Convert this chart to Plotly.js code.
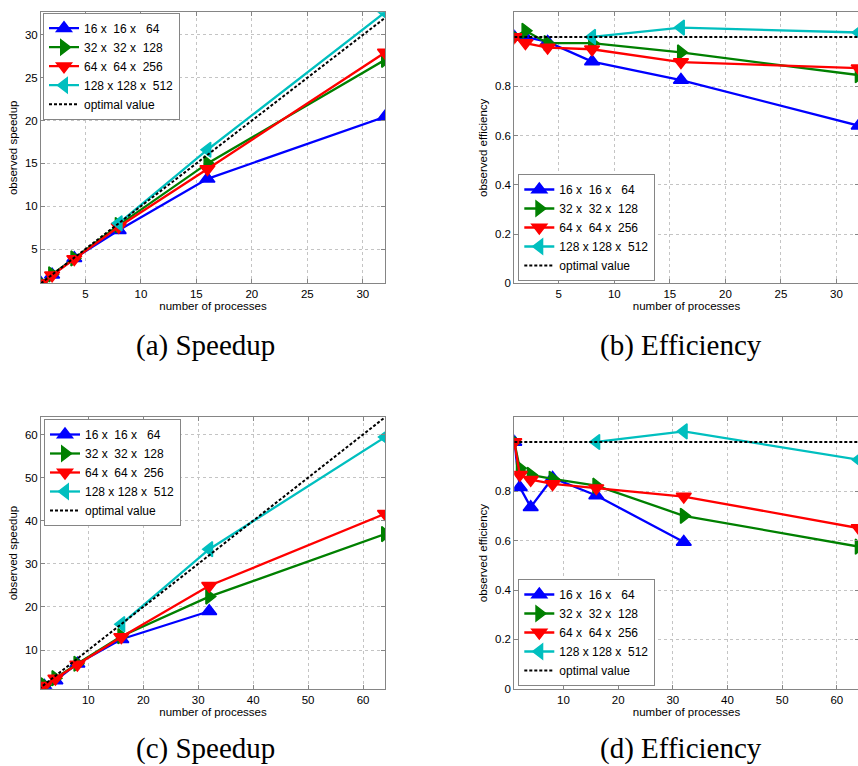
<!DOCTYPE html>
<html>
<head>
<meta charset="utf-8">
<script src="https://cdn.plot.ly/plotly-3.0.1.min.js"></script>
<style>
html,body{margin:0;padding:0;background:#fff;overflow:hidden;}
#chart{width:860px;height:766px;}
</style>
</head>
<body>
<div id="chart"></div>
<script>
// ---------- data ----------
const seriesNames = ['16 x\u00a0\u00a016 x\u00a0\u00a0\u00a064', '32 x\u00a0\u00a032 x\u00a0\u00a0128', '64 x\u00a0\u00a064 x\u00a0\u00a0256', '128 x 128 x\u00a0\u00a0512'];
const optimalName = 'optimal value';

// panel (a) speedup, up to 32 processes
const procsA = [1, 2, 4, 8, 16, 32];
const procsA_cyan = [8, 16, 32];
const speedupA_blue  = [1, 2.0, 3.92, 7.2, 13.2, 20.45];
const speedupA_green = [1, 2.05, 3.9, 7.8, 15.0, 27.1];
const speedupA_red   = [1, 1.95, 3.83, 7.6, 14.35, 27.95];
const speedupA_cyan  = [8, 16.6, 32.65];
const optimalA       = [1, 2, 4, 8, 16, 32];

// panel (b) efficiency, up to 32 processes
const effB_blue  = [1.0, 1.0, 0.98, 0.9, 0.825, 0.64];
const effB_green = [1.0, 1.025, 0.975, 0.975, 0.937, 0.845];
const effB_red   = [1.0, 0.975, 0.957, 0.95, 0.898, 0.873];
const effB_cyan  = [1.0, 1.038, 1.018];
const optimalEffB = [1, 1, 1, 1, 1, 1];

// panel (c) speedup, up to 64 processes
const procsC = [1, 2, 4, 8, 16, 32, 64];
const procsC_blue = [1, 2, 4, 8, 16, 32];
const procsC_cyan = [16, 32, 64];
const speedupC_blue  = [1, 1.63, 2.94, 6.83, 12.5, 19.0];
const speedupC_green = [1, 1.79, 3.47, 6.81, 13.2, 22.4, 36.9];
const speedupC_red   = [1, 1.73, 3.39, 6.64, 13.0, 24.9, 41.6];
const speedupC_cyan  = [16, 33.4, 59.4];
const optimalC       = [1, 2, 4, 8, 16, 32, 64];

// panel (d) efficiency, up to 64 processes
const effD_blue  = [1.0, 0.817, 0.736, 0.854, 0.783, 0.595];
const effD_green = [1.0, 0.894, 0.867, 0.851, 0.823, 0.701, 0.576];
const effD_red   = [1.0, 0.867, 0.847, 0.83, 0.813, 0.779, 0.651];
const effD_cyan  = [1.0, 1.043, 0.928];
const optimalEffD = [1, 1, 1, 1, 1, 1, 1];

const captions = ['(a) Speedup', '(b) Efficiency', '(c) Speedup', '(d) Efficiency'];
const ticksX32 = [5, 10, 15, 20, 25, 30];
const ticksX64 = [10, 20, 30, 40, 50, 60];
const ticksSpeedA = [5, 10, 15, 20, 25, 30];
const ticksSpeedC = [10, 20, 30, 40, 50, 60];
const ticksEff = [0, 0.2, 0.4, 0.6, 0.8];

// ---------- styles ----------
const W = 860, H = 766;
const colors = ['#0000ff', '#008000', '#ff0000', '#00bfbf'];
const symbols = ['triangle-up', 'triangle-right', 'triangle-down', 'triangle-left'];
const sansFont = 'Liberation Sans, Arial, sans-serif';

function series(x, y, i, xa, ya, lg) {
  return {
    x: x, y: y, name: seriesNames[i], type: 'scatter', mode: 'lines+markers',
    xaxis: xa, yaxis: ya, legend: lg,
    line: {color: colors[i], width: 2.3},
    marker: {symbol: symbols[i], size: 13, color: colors[i], line: {color: colors[i], width: 1.5}},
    cliponaxis: true
  };
}
function optimal(x, y, xa, ya, lg) {
  return {
    x: x, y: y, name: optimalName, type: 'scatter', mode: 'lines',
    xaxis: xa, yaxis: ya, legend: lg,
    line: {color: '#000', width: 2, dash: '3px,2px'}
  };
}

const traces = [
  series(procsA, speedupA_blue, 0, 'x', 'y', 'legend'),
  series(procsA, speedupA_green, 1, 'x', 'y', 'legend'),
  series(procsA, speedupA_red, 2, 'x', 'y', 'legend'),
  series(procsA_cyan, speedupA_cyan, 3, 'x', 'y', 'legend'),
  optimal(procsA, optimalA, 'x', 'y', 'legend'),

  series(procsA, effB_blue, 0, 'x2', 'y2', 'legend2'),
  series(procsA, effB_green, 1, 'x2', 'y2', 'legend2'),
  series(procsA, effB_red, 2, 'x2', 'y2', 'legend2'),
  series(procsA_cyan, effB_cyan, 3, 'x2', 'y2', 'legend2'),
  optimal(procsA, optimalEffB, 'x2', 'y2', 'legend2'),

  series(procsC_blue, speedupC_blue, 0, 'x3', 'y3', 'legend3'),
  series(procsC, speedupC_green, 1, 'x3', 'y3', 'legend3'),
  series(procsC, speedupC_red, 2, 'x3', 'y3', 'legend3'),
  series(procsC_cyan, speedupC_cyan, 3, 'x3', 'y3', 'legend3'),
  optimal(procsC, optimalC, 'x3', 'y3', 'legend3'),

  series(procsC_blue, effD_blue, 0, 'x4', 'y4', 'legend4'),
  series(procsC, effD_green, 1, 'x4', 'y4', 'legend4'),
  series(procsC, effD_red, 2, 'x4', 'y4', 'legend4'),
  series(procsC_cyan, effD_cyan, 3, 'x4', 'y4', 'legend4'),
  optimal(procsC, optimalEffD, 'x4', 'y4', 'legend4')
];

function dx(a, b) { return [a / W, b / W]; }
function dy(top, bottom) { return [1 - bottom / H, 1 - top / H]; }

const axisFont = {family: sansFont, size: 11.5, color: '#000'};
function xax(domain, range, tickvals, anchor) {
  return {
    domain: domain, range: range, tickvals: tickvals, anchor: anchor,
    showline: true, linecolor: '#858585', linewidth: 1, mirror: 'ticks',
    ticks: 'inside', ticklen: 4, tickcolor: '#858585',
    showgrid: true, gridcolor: '#c4c4c4', griddash: 'dot', gridwidth: 1,
    zeroline: false, tickfont: axisFont, fixedrange: true,
    title: {text: 'number of processes', font: axisFont, standoff: 2}
  };
}
function yax(domain, range, tickvals, anchor, title) {
  return {
    domain: domain, range: range, tickvals: tickvals, anchor: anchor,
    showline: true, linecolor: '#858585', linewidth: 1, mirror: 'ticks',
    ticks: 'inside', ticklen: 4, tickcolor: '#858585',
    showgrid: true, gridcolor: '#c4c4c4', griddash: 'dot', gridwidth: 1,
    zeroline: false, tickfont: axisFont, fixedrange: true,
    title: {text: title, font: axisFont, standoff: 4}
  };
}
function legendCfg(x, y, yanchor) {
  return {
    x: x, y: y, xanchor: 'left', yanchor: yanchor, xref: 'paper', yref: 'paper',
    bgcolor: '#fff', bordercolor: '#858585', borderwidth: 1,
    font: {family: sansFont, size: 12, color: '#000'},
    tracegroupgap: 0, itemwidth: 30, itemclick: false, itemdoubleclick: false
  };
}

const colL = dx(41, 385), colR = dx(514.3, 858.7);
const rowT = dy(12.3, 283.3), rowB = dy(417.3, 688.8);

const captionFont = {family: 'Liberation Serif, Times New Roman, serif', size: 29, color: '#000'};
function cap(text, xpx, ypx) {
  return {text: text, x: xpx / W, y: 1 - ypx / H, xref: 'paper', yref: 'paper',
          xanchor: 'center', yanchor: 'middle', showarrow: false, font: captionFont};
}

const layout = {
  width: W, height: H,
  margin: {l: 0, r: 0, t: 0, b: 0},
  paper_bgcolor: '#fff', plot_bgcolor: '#fff',
  showlegend: true,
  xaxis: xax(colL, [1, 32], ticksX32, 'y'),
  yaxis: yax(rowT, [1, 32.65], ticksSpeedA, 'x', 'observed speedup'),
  xaxis2: xax(colR, [1, 32], ticksX32, 'y2'),
  yaxis2: yax(rowT, [0, 1.1], ticksEff, 'x2', 'observed efficiency'),
  xaxis3: xax(colL, [1.38, 64], ticksX64, 'y3'),
  yaxis3: yax(rowB, [1, 64], ticksSpeedC, 'x3', 'observed speedup'),
  xaxis4: xax(colR, [1, 64], ticksX64, 'y4'),
  yaxis4: yax(rowB, [0, 1.1], ticksEff, 'x4', 'observed efficiency'),
  legend: legendCfg(43 / W, 1 - 12.7 / H, 'top'),
  legend2: legendCfg(518.3 / W, 1 - 281 / H, 'bottom'),
  legend3: legendCfg(44 / W, 1 - 419 / H, 'top'),
  legend4: legendCfg(518.3 / W, 1 - 686 / H, 'bottom'),
  annotations: [
    cap(captions[0], 205, 345),
    cap(captions[1], 681, 345),
    cap(captions[2], 205, 748),
    cap(captions[3], 681, 748)
  ]
};

Plotly.newPlot('chart', traces, layout, {displayModeBar: false, staticPlot: true});
</script>
</body>
</html>
